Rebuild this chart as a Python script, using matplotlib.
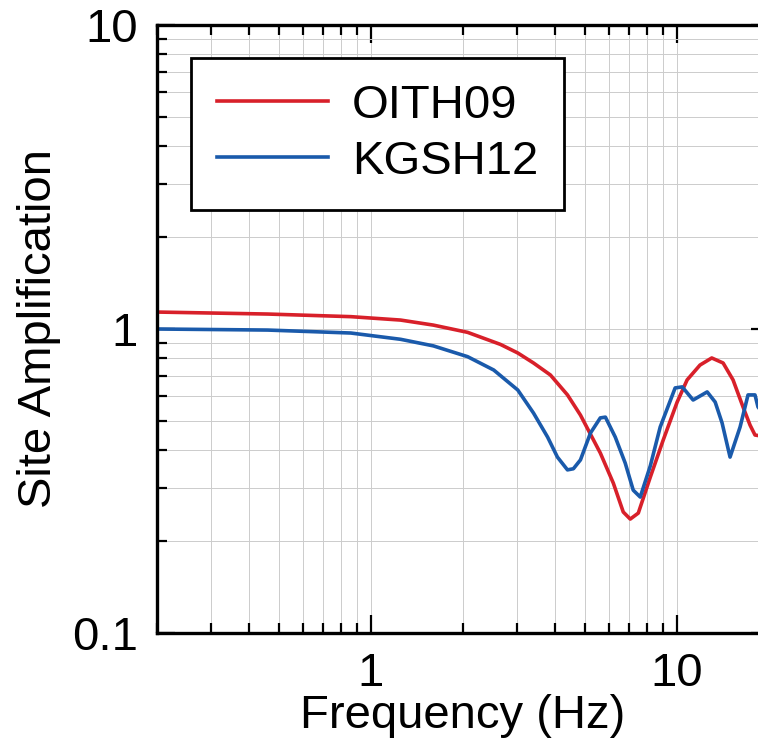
import matplotlib.pyplot as plt
import numpy as np
from matplotlib.ticker import FuncFormatter, NullFormatter

freq_oith = [0.2, 0.46, 0.86, 1.25, 1.6, 2.07, 2.65, 3.02, 3.40, 3.86, 4.39,
             4.84, 5.62, 6.20, 6.68, 7.04, 7.48, 8.19, 9.02, 10.02, 10.8,
             11.9, 13.0, 14.16, 15.26, 16.45, 17.34, 18.0, 20.0]
amp_oith = [1.137, 1.12, 1.098, 1.07, 1.03, 0.975, 0.89, 0.834, 0.773, 0.706,
            0.607, 0.521, 0.391, 0.311, 0.250, 0.237, 0.248, 0.326, 0.431,
            0.575, 0.680, 0.761, 0.803, 0.773, 0.680, 0.554, 0.483, 0.448,
            0.44]

freq_kgsh = [0.2, 0.46, 0.86, 1.25, 1.6, 2.07, 2.52, 3.02, 3.40, 3.78, 4.07,
             4.39, 4.59, 4.84, 5.22, 5.62, 5.84, 6.29, 6.78, 7.20, 7.59,
             8.19, 8.82, 9.87, 10.41, 11.30, 12.56, 13.34, 14.05, 14.92,
             16.09, 17.08, 18.0, 18.41, 20.0]
amp_kgsh = [1.0, 0.992, 0.97, 0.925, 0.88, 0.811, 0.733, 0.630, 0.529, 0.441,
            0.379, 0.344, 0.347, 0.371, 0.455, 0.510, 0.513, 0.441, 0.362,
            0.295, 0.280, 0.355, 0.476, 0.640, 0.645, 0.584, 0.621, 0.575,
            0.491, 0.379, 0.476, 0.607, 0.607, 0.554, 0.50]

series = [("OITH09", freq_oith, amp_oith, "#d8202a"),
          ("KGSH12", freq_kgsh, amp_kgsh, "#1a5aab")]

plt.rcParams['font.family'] = ['Liberation Sans', 'DejaVu Sans']

W, H = 758, 740
fig = plt.figure(figsize=(W / 100, H / 100), dpi=100)
# right spine sits just past the image edge in the reference
ax = fig.add_axes([157 / W, (H - 633) / H, (769 - 157) / W, (633 - 25) / H])

for name, f, a, c in series:
    ax.plot(f, a, color=c, lw=2.6, label=name)

ax.set_xscale('log')
ax.set_yscale('log')
ax.set_xlim(0.2, 20)
ax.set_ylim(0.1, 10)

fmt = FuncFormatter(lambda v, p: "%g" % v)
ax.xaxis.set_major_formatter(fmt)
ax.yaxis.set_major_formatter(fmt)
ax.xaxis.set_minor_formatter(NullFormatter())
ax.yaxis.set_minor_formatter(NullFormatter())

ax.grid(True, which='both', color='#cccccc', lw=0.7)
ax.set_axisbelow(True)

ax.tick_params(which='both', direction='in', top=True, right=True,
               labelsize=34, width=1.6, color='black')
ax.tick_params(which='major', length=13, pad=14)
ax.tick_params(which='minor', length=7)
for s in ax.spines.values():
    s.set_linewidth(2.4)

ax.set_xlabel("Frequency (Hz)", fontsize=34, labelpad=-2)
ax.set_ylabel("Site Amplification", fontsize=34, labelpad=8)

leg = ax.legend(loc='upper left', bbox_to_anchor=(0.0556, 0.946),
                borderaxespad=0, fontsize=34, fancybox=False,
                handlelength=2.36, handletextpad=0.5, borderpad=0.55,
                labelspacing=0.25, edgecolor='black', framealpha=1)
leg.get_frame().set_linewidth(2.0)

fig.savefig("out.png", dpi=100)
